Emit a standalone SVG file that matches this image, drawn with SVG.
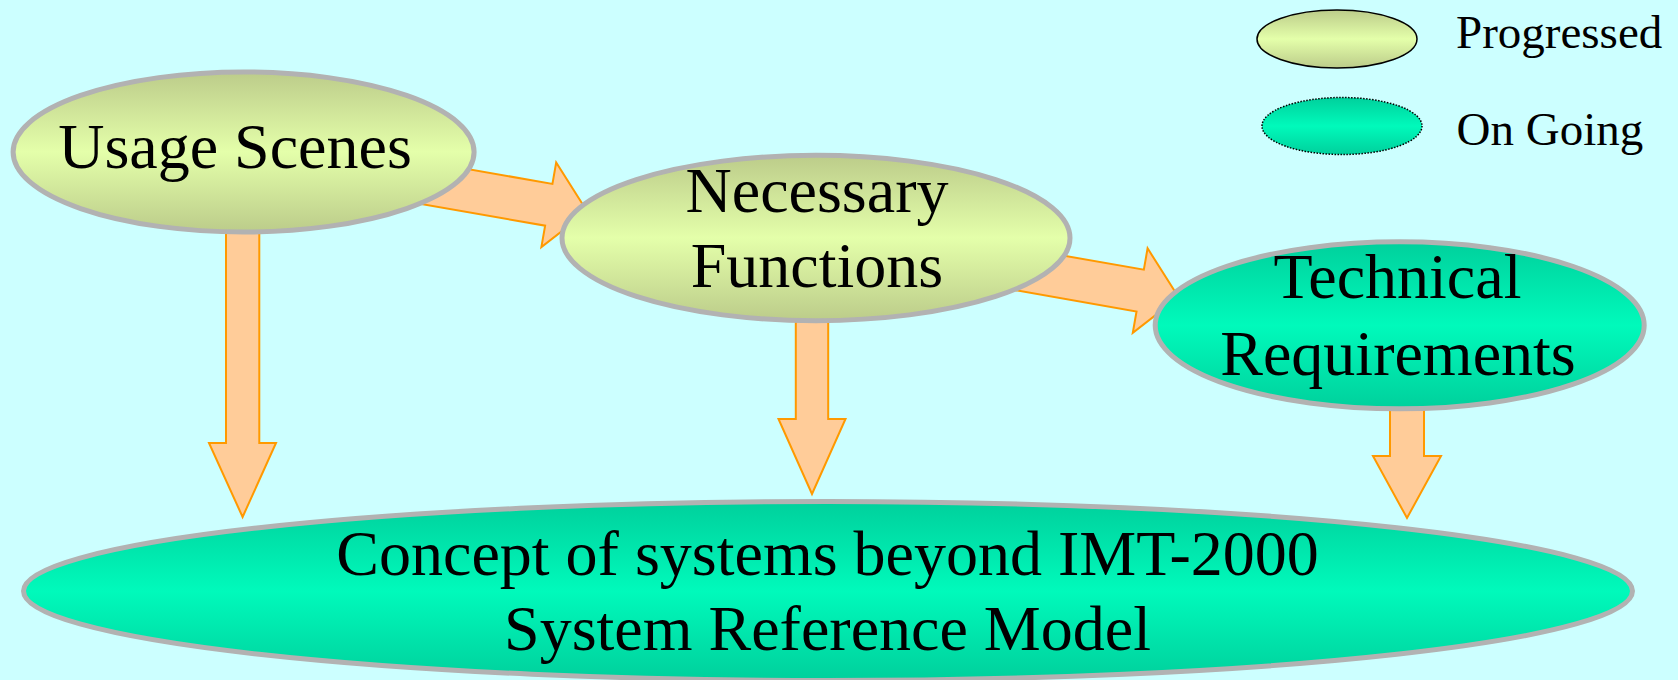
<svg xmlns="http://www.w3.org/2000/svg" width="1678" height="680" viewBox="0 0 1678 680">
  <defs>
    <linearGradient id="gradProgressed" x1="0" y1="0" x2="0" y2="1">
      <stop offset="0" stop-color="#bccc8a"/>
      <stop offset="0.5" stop-color="#e4ffaa"/>
      <stop offset="1" stop-color="#bccc8a"/>
    </linearGradient>
    <linearGradient id="gradOngoing" x1="0" y1="0" x2="0" y2="1">
      <stop offset="0" stop-color="#00d09c"/>
      <stop offset="0.5" stop-color="#00fabb"/>
      <stop offset="1" stop-color="#00d09c"/>
    </linearGradient>
    <style>
      .bg { fill: #ccffff; }
      .node-progressed { fill: url(#gradProgressed); stroke: #b2b2b2; stroke-width: 5; }
      .node-ongoing { fill: url(#gradOngoing); stroke: #b2b2b2; stroke-width: 5; }
      .key-progressed { fill: url(#gradProgressed); stroke: #000000; stroke-width: 1.5; }
      .key-ongoing { fill: url(#gradOngoing); stroke: #000000; stroke-width: 1.5; stroke-dasharray: 1.5 1.5; }
      .arrow { fill: #ffcc99; stroke: #ff9900; stroke-width: 2; stroke-linejoin: miter; }
      .label { font-family: "Liberation Serif", "Times New Roman", serif; font-size: 64px; fill: #000000; text-anchor: middle; }
      .key-label { font-family: "Liberation Serif", "Times New Roman", serif; font-size: 47px; fill: #000000; }
    </style>
  </defs>

  <rect class="bg" x="0" y="0" width="1678" height="680"/>

  <!-- block arrows between the stages -->
  <g id="connectors">
    <!-- Usage Scenes -> Necessary Functions -->
    <polygon class="arrow" transform="translate(587.2,211.5) rotate(9.93)"
             points="0,0 -39,-42.9 -39,-21.2 -200,-21.2 -200,21.2 -39,21.2 -39,42.9"/>
    <!-- Necessary Functions -> Technical Requirements -->
    <polygon class="arrow" transform="translate(1178.6,297.3) rotate(9.93)"
             points="0,0 -39,-42.9 -39,-21.2 -200,-21.2 -200,21.2 -39,21.2 -39,42.9"/>
    <!-- Usage Scenes -> Concept -->
    <polygon class="arrow" points="226,200 259.3,200 259.3,443 276,443 242.6,517 209,443 226,443"/>
    <!-- Necessary Functions -> Concept -->
    <polygon class="arrow" points="795.8,300 828.2,300 828.2,419 845.5,419 812,494 778.5,419 795.8,419"/>
    <!-- Technical Requirements -> Concept -->
    <polygon class="arrow" points="1390,380 1424,380 1424,456 1441,456 1407,518 1373,456 1390,456"/>
  </g>

  <g id="node-usage-scenes">
    <ellipse class="node-progressed" cx="243.6" cy="152" rx="230.5" ry="80"/>
    <text class="label" x="235" y="168">Usage Scenes</text>
  </g>

  <g id="node-necessary-functions">
    <ellipse class="node-progressed" cx="816" cy="238" rx="254" ry="82.7"/>
    <text class="label" x="817" y="212">Necessary</text>
    <text class="label" x="817" y="287">Functions</text>
  </g>

  <g id="node-technical-requirements">
    <ellipse class="node-ongoing" cx="1399.7" cy="325.3" rx="244.5" ry="83.5"/>
    <text class="label" x="1397.5" y="298">Technical</text>
    <text class="label" x="1398" y="375">Requirements</text>
  </g>

  <g id="node-concept">
    <ellipse class="node-ongoing" cx="828" cy="591" rx="804.5" ry="89.5"/>
    <text class="label" x="827.5" y="575">Concept of systems beyond IMT-2000</text>
    <text class="label" x="827.5" y="650">System Reference Model</text>
  </g>

  <g id="legend">
    <g id="legend-progressed">
      <ellipse class="key-progressed" cx="1337" cy="39" rx="80" ry="29"/>
      <text class="key-label" x="1456" y="48">Progressed</text>
    </g>
    <g id="legend-ongoing">
      <ellipse class="key-ongoing" cx="1342" cy="126" rx="80" ry="28.5"/>
      <text class="key-label" x="1456.5" y="145">On Going</text>
    </g>
  </g>
</svg>
